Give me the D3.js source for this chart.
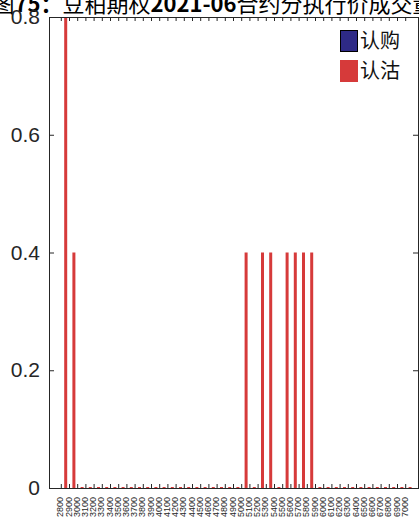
<!DOCTYPE html>
<html><head><meta charset="utf-8">
<script src="https://cdn.jsdelivr.net/npm/d3@7/dist/d3.min.js"></script>
<style>body{margin:0;background:#fff;overflow:hidden}svg{display:block}</style>
</head><body>
<script>
const titleParts = [["图","n"],["75：","b"],["豆粕期权","n"],["2021-06","b"],["合约分执行价成交量","n"]];
const strikes = ["2800","2900","3000","3100","3200","3300","3400","3500","3600","3700","3800","3900","4000","4100","4200","4300","4400","4500","4600","4700","4800","4900","5000","5100","5200","5300","5400","5500","5600","5700","5800","5900","6000","6100","6200","6300","6400","6500","6600","6700","6800","6900","7000"];
const callValues = strikes.map(() => 0);
const putValues = [0.8,0.4,0,0,0,0,0,0,0,0,0,0,0,0,0,0,0,0,0,0,0,0,0.4,0,0.4,0.4,0,0.4,0.4,0.4,0.4,0,0,0,0,0,0,0,0,0,0,0,0];
const yTicks = [0,0.2,0.4,0.6,0.8];
const legendLabels = ["认购","认沽"];
const colors = ["#2e2a86","#d63a3a"];

const W=419,H=517;
const L=49,R=418,T=17,B=488;
const svg=d3.select("body").append("svg").attr("width",W).attr("height",H);
const x=d3.scaleBand().domain(strikes).range([L,R]).paddingInner(0).paddingOuter(1);
const y=d3.scaleLinear().domain([0,0.8]).range([B,T]);
const font="'Liberation Sans', Arial, sans-serif";

// title (clipped at top)
const tt=svg.append("text").attr("x",W/2+4).attr("y",12).attr("text-anchor","middle")
  .attr("font-family","'Noto Sans CJK SC', "+font).attr("font-size",22).attr("fill","#000");
titleParts.forEach(p=>tt.append("tspan").text(p[0]).attr("font-weight",p[1]==="b"?"bold":"normal"));

// bars
const g=svg.append("g");
const off=4.4, bw=3;
g.selectAll("rect.put").data(strikes).join("rect").attr("class","put")
  .attr("x",d=>x(d)+x.bandwidth()/2+off-bw/2)
  .attr("width",bw)
  .attr("y",(d,i)=>Math.min(y(putValues[i]),B-1))
  .attr("height",(d,i)=>Math.max(B-y(putValues[i]),1))
  .attr("fill",colors[1]);
g.selectAll("rect.call").data(strikes).join("rect").attr("class","call")
  .attr("x",d=>x(d)+x.bandwidth()/2-off-bw/2)
  .attr("width",bw)
  .attr("y",(d,i)=>y(callValues[i]))
  .attr("height",(d,i)=>B-y(callValues[i]))
  .attr("fill",colors[0]);

// frame
const ax="#262626";
svg.append("rect").attr("x",L).attr("y",T).attr("width",R-L).attr("height",B-T)
  .attr("fill","none").attr("stroke",ax).attr("stroke-width",1).attr("shape-rendering","crispEdges");

// y axis
const ya=svg.append("g").attr("transform",`translate(${L},0)`)
  .call(d3.axisLeft(y).tickValues(yTicks).tickSizeInner(-5).tickSizeOuter(0).tickPadding(9)
   .tickFormat(d=>d===0?"0":d3.format(".1f")(d)));
ya.select(".domain").remove();
ya.selectAll("line").attr("stroke",ax);
ya.selectAll("text").attr("font-family",font).attr("font-size",21).attr("fill",ax);
const yr=svg.append("g").attr("transform",`translate(${R},0)`)
  .call(d3.axisRight(y).tickValues(yTicks).tickSizeInner(-5).tickSizeOuter(0).tickFormat(""));
yr.select(".domain").remove(); yr.selectAll("line").attr("stroke",ax);

// x axis
const xa=svg.append("g").attr("transform",`translate(0,${B})`)
  .call(d3.axisBottom(x).tickSizeInner(-4).tickSizeOuter(0));
xa.select(".domain").remove();
xa.selectAll("line").attr("stroke",ax);
xa.selectAll(".tick text").attr("font-family",font).attr("font-size",9).attr("fill",ax)
  .attr("transform","translate(-1,9) rotate(-90)").attr("x",0).attr("y",0)
  .attr("text-anchor","end").attr("dy","0.35em");
const xt=svg.append("g").attr("transform",`translate(0,${T})`)
  .call(d3.axisTop(x).tickSizeInner(-4).tickSizeOuter(0).tickFormat(""));
xt.select(".domain").remove(); xt.selectAll("line").attr("stroke",ax);

// legend
const lg=svg.append("g");
legendLabels.forEach((t,i)=>{
  const yy=30+i*30;
  lg.append("rect").attr("x",340.5).attr("y",yy+0.5).attr("width",17).attr("height",21)
    .attr("fill",colors[i]).attr("stroke",i===0?"#000":colors[i]).attr("stroke-width",1);
  lg.append("text").attr("x",360).attr("y",yy+18).text(t)
    .attr("font-family","'Noto Sans CJK SC', sans-serif").attr("font-size",20).attr("fill","#111");
});
</script>
</body></html>
